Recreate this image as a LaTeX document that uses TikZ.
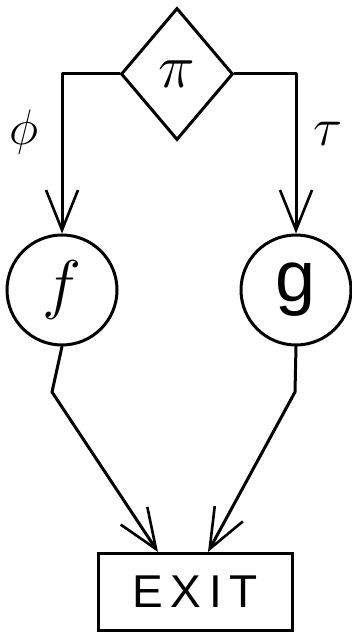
\RequirePackage{fix-cm}
\documentclass[tikz,border=0pt]{standalone}
\usepackage{amsmath,amssymb}
\usepackage{fontspec}
\setsansfont{Liberation Sans}
\usetikzlibrary{arrows.meta,shapes.geometric,positioning}
\tikzset{
  flow/.style={line width=3pt, line join=round, line cap=round},
  arrow/.style={flow, -{Straight Barb[length=40pt, width=32pt, line width=2.6pt]}},
  test/.style={diamond, draw, line width=3pt, minimum width=112pt, minimum height=132pt, inner sep=0pt},
  fun/.style={circle, draw, line width=3pt, minimum size=110pt, inner sep=0pt},
  stop/.style={rectangle, draw, line width=3pt, minimum width=194pt, minimum height=77pt, inner sep=0pt},
}

\begin{document}
\begin{tikzpicture}[x=1pt, y=-1pt]
  \useasboundingbox (0,0) rectangle (352,636);

  % Nodes
  \node[test] (pi) at (177,74) {\fontsize{62}{62}\selectfont$\pi$};
  \node[fun] (f) at (62,290) {\fontsize{66}{66}\selectfont$f$};
  \node[fun] (g) at (296,290) {\fontsize{72}{72}\selectfont\sffamily g};
  \node[stop] (exit) at (195,592) {\fontsize{46}{46}\selectfont\sffamily E\,X\,I\,T};

  % Bends
  \coordinate (fbend) at (52,392);
  \coordinate (gbend) at (295,392);

  % Branches
  \draw[arrow] (pi.west) -| (f.north);
  \draw[arrow] (pi.east) -| (g.north);
  \node[font=\fontsize{50}{50}\selectfont] (phi) at (24,132) {$\phi$};
  \node[font=\fontsize{54}{54}\selectfont] (tau) at (328,134) {$\tau$};

  % Exits
  \draw[arrow] (f.south) -- (fbend) -- ([xshift=-37pt]exit.north);
  \draw[arrow] (g.south) -- (gbend) -- ([xshift=13pt]exit.north);
\end{tikzpicture}
\end{document}
